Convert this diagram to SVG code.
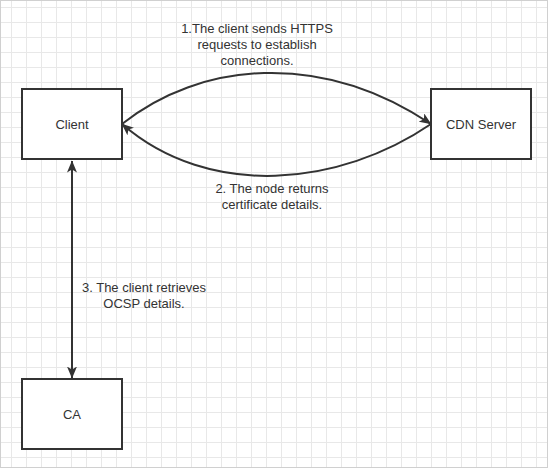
<svg xmlns="http://www.w3.org/2000/svg" width="548" height="468" viewBox="0 0 548 468">
  <defs>
    <pattern id="grid" patternUnits="userSpaceOnUse" x="11" y="7" width="15" height="15">
      <path d="M0.5 0V15M0 0.5H15" fill="none" stroke="#e8e8e8" stroke-width="1"/>
    </pattern>
    <marker id="arr" viewBox="0 0 12 10" refX="11.5" refY="5" markerWidth="12" markerHeight="10" orient="auto-start-reverse" markerUnits="userSpaceOnUse">
      <path d="M0,0 L12,5 L0,10 L3,5 z" fill="#333333"/>
    </marker>
    <style>
      .box { fill: #ffffff; stroke: #333333; stroke-width: 2; }
      .edge { fill: none; stroke: #333333; stroke-width: 2; }
      .lbl { font-family: "Liberation Sans", Arial, sans-serif; font-size: 13px; fill: #333333; text-anchor: middle; }
    </style>
  </defs>
  <rect x="0" y="0" width="548" height="468" fill="#ffffff"/>
  <rect x="0" y="0" width="548" height="468" fill="url(#grid)"/>
  <rect x="0.5" y="0.5" width="547" height="467" fill="none" stroke="#d0d0d0" stroke-width="1"/>

  <g id="connectors">
    <path class="edge" d="M122,124 C200,62 320,50 431,124" marker-end="url(#arr)"/>
    <path class="edge" d="M431,124 C340,186 210,200 122,124" marker-end="url(#arr)"/>
    <path class="edge" d="M72,161 L72,378" marker-start="url(#arr)" marker-end="url(#arr)"/>
  </g>

  <g id="client">
    <rect class="box" x="22" y="89" width="100" height="70"/>
    <text class="lbl" x="72" y="128.5">Client</text>
  </g>
  <g id="cdn-server">
    <rect class="box" x="431" y="89" width="100" height="70"/>
    <text class="lbl" x="481" y="128.5">CDN Server</text>
  </g>
  <g id="ca">
    <rect class="box" x="22" y="379" width="100" height="70"/>
    <text class="lbl" x="72" y="418.5">CA</text>
  </g>

  <g id="labels">
    <text class="lbl" x="257" y="32.5">1.The client sends HTTPS<tspan x="257" dy="16">requests to establish</tspan><tspan x="257" dy="16">connections.</tspan></text>
    <text class="lbl" x="272" y="192.5">2. The node returns<tspan x="272" dy="16">certificate details.</tspan></text>
    <text class="lbl" x="144" y="291.5">3. The client retrieves<tspan x="144" dy="16.5">OCSP details.</tspan></text>
  </g>
</svg>
